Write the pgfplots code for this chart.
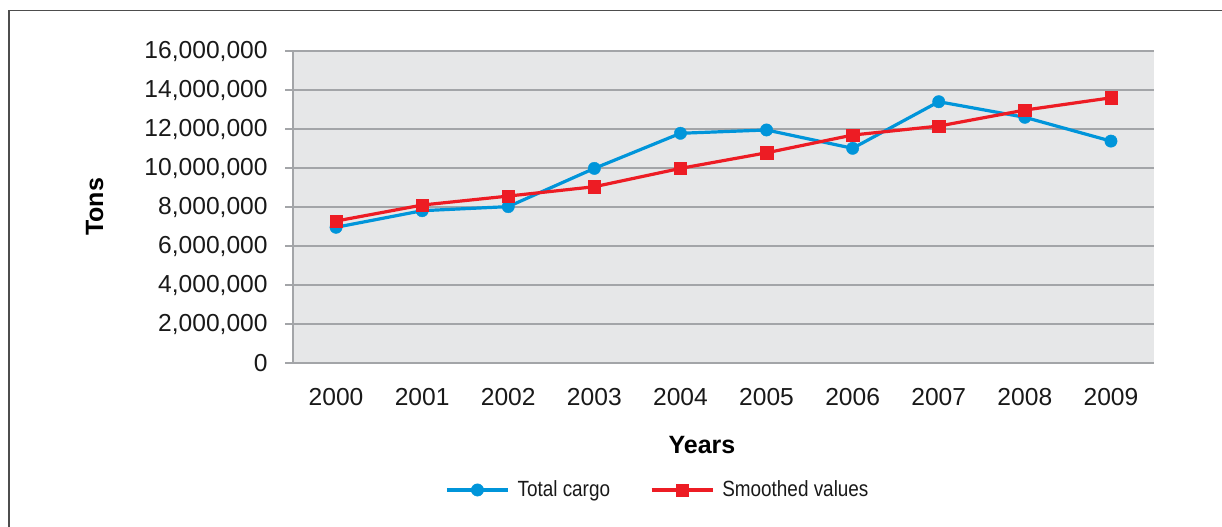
\documentclass[border=0pt]{standalone}
\usepackage{fontspec}
\setmainfont{Liberation Sans}
\usepackage{pgfplots}
\pgfplotsset{compat=1.18}
\definecolor{cargoblue}{HTML}{0095DA}
\definecolor{smoothred}{HTML}{ED1C24}
\definecolor{plotbg}{HTML}{E6E7E8}
\definecolor{gridgray}{HTML}{A3A5A8}
\definecolor{framegray}{HTML}{4D4D4D}
\newcommand{\narrow}[1]{\scalebox{0.86}[1]{#1}}
\begin{document}
\begin{tikzpicture}
\useasboundingbox (0,0) rectangle (611pt,263pt);
\draw[framegray, line width=0.8pt] (4.5pt,-2pt) -- (4.5pt,257.75pt) -- (615pt,257.75pt);
\begin{axis}[
  at={(146.5pt,81.5pt)}, anchor=south west,
  scale only axis, width=430.5pt, height=156pt,
  xmin=-0.5, xmax=9.5, ymin=0, ymax=16000000,
  xtick={0,1,2,3,4,5,6,7,8,9},
  xticklabels={2000,2001,2002,2003,2004,2005,2006,2007,2008,2009},
  ytick={0,2000000,4000000,6000000,8000000,10000000,12000000,14000000,16000000},
  scaled y ticks=false,
  /pgf/number format/assume math mode=true,
  yticklabel style={/pgf/number format/fixed, /pgf/number format/1000 sep={,}, anchor=east, inner sep=0pt, xshift=-8.5pt},
  xticklabel style={anchor=base, inner sep=0pt, yshift=-17pt},
  tick label style={font=\fontsize{12.3pt}{14pt}\selectfont, text=black!90},
  axis x line*=bottom, axis y line*=left,
  axis line style={gridgray, line width=1pt, -},
  xtick style={draw=none},
  ytick style={gridgray, line width=1pt},
  tick align=outside, major tick length=4pt,
  ymajorgrids, grid style={gridgray, line width=1pt},
  axis background/.style={fill=plotbg},
  clip=false,
  legend columns=2,
  legend style={at={(0.425,-0.407)}, anchor=center, draw=none, fill=none,
    font=\fontsize{11pt}{13pt}\selectfont, text=black!90,
    /tikz/every odd column/.append style={column sep=2pt},
    /tikz/every even column/.append style={column sep=18pt}},
  legend cell align=left,
  legend image code/.code={\draw[mark repeat=2,mark phase=2] plot coordinates {(0pt,0pt) (15.25pt,0pt) (30.5pt,0pt)};},
]
\addplot[cargoblue, line width=1.6pt, mark=*, mark size=3.1pt, mark options={solid, fill=cargoblue, draw=cargoblue, line width=0.2pt}]
  coordinates {(0,6960000) (1,7810000) (2,8020000) (3,9980000) (4,11780000) (5,11950000) (6,11010000) (7,13400000) (8,12600000) (9,11380000)};
\addlegendentry{\narrow{Total cargo}}
\addplot[smoothred, line width=1.6pt, mark=square*, mark size=3.1pt, mark options={solid, fill=smoothred, draw=smoothred, line width=0.2pt}]
  coordinates {(0,7280000) (1,8100000) (2,8560000) (3,9040000) (4,9980000) (5,10780000) (6,11690000) (7,12150000) (8,12970000) (9,13600000)};
\addlegendentry{\narrow{Smoothed values}}
\end{axis}
\node[font=\bfseries\fontsize{12.5pt}{14pt}\selectfont, anchor=base, rotate=90] at (51.5pt,159.5pt) {Tons};
\node[font=\bfseries\fontsize{12.5pt}{14pt}\selectfont, anchor=base] at (351pt,36.5pt) {Years};
\end{tikzpicture}
\end{document}
